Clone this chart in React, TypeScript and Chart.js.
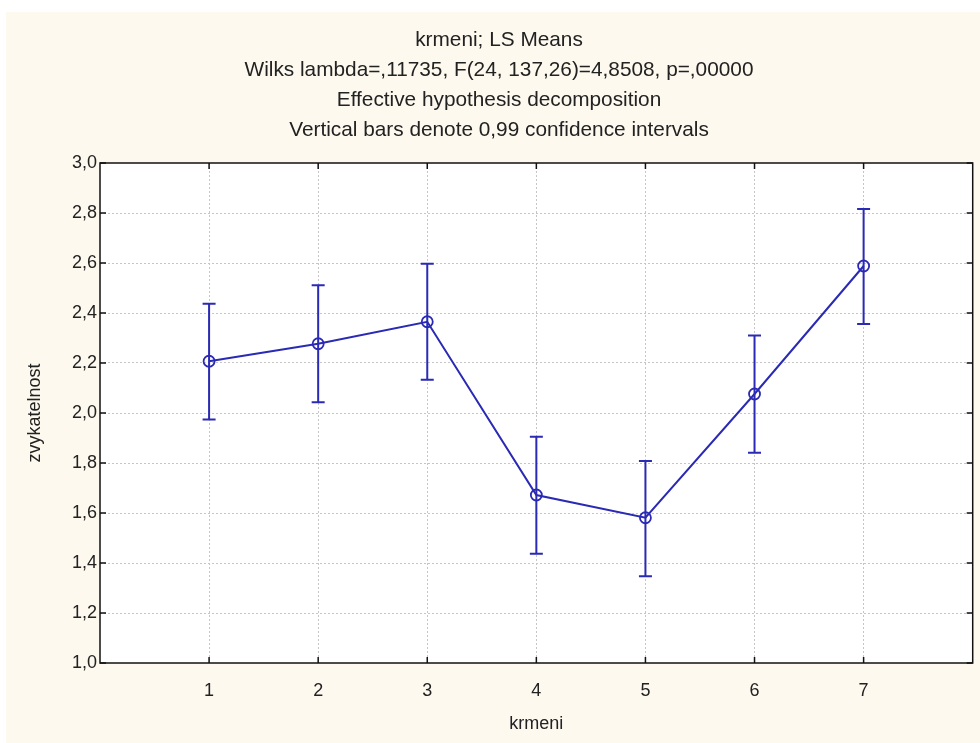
import React, { useEffect, useRef } from 'react';
import { Chart, registerables } from 'chart.js';

Chart.register(...registerables);

// ---- data ----
const categories = ['1', '2', '3', '4', '5', '6', '7'];
const means = [2.207, 2.277, 2.365, 1.672, 1.581, 2.076, 2.588];
const upper = [2.437, 2.511, 2.597, 1.905, 1.808, 2.31, 2.816];
const lower = [1.974, 2.043, 2.133, 1.437, 1.347, 1.841, 2.356];
const titleLines = [
  'krmeni; LS Means',
  'Wilks lambda=,11735, F(24, 137,26)=4,8508, p=,00000',
  'Effective hypothesis decomposition',
  'Vertical bars denote 0,99 confidence intervals',
];
const xTitle = 'krmeni';
const yTitle = 'zvykatelnost';

const BLUE = '#2a2ab4';
const FONT = "'Liberation Sans', Arial, sans-serif";

const framePlugin = {
  id: 'frame',
  beforeDraw(chart: any) {
    const { ctx, width, height, chartArea } = chart;
    ctx.save();
    ctx.fillStyle = '#ffffff';
    ctx.fillRect(0, 0, width, height);
    ctx.fillStyle = '#fdf9ef';
    ctx.fillRect(6, 12, width - 6, height - 12);
    ctx.fillStyle = '#ffffff';
    ctx.fillRect(chartArea.left, chartArea.top, chartArea.right - chartArea.left, chartArea.bottom - chartArea.top);
    ctx.restore();
  },
  afterDatasetsDraw(chart: any) {
    const { ctx } = chart;
    const xs = chart.scales.x;
    const ys = chart.scales.y;
    ctx.save();
    ctx.strokeStyle = BLUE;
    ctx.lineWidth = 2;
    for (let i = 0; i < means.length; i++) {
      const x = xs.getPixelForValue(i + 1);
      const yt = ys.getPixelForValue(upper[i]);
      const yb = ys.getPixelForValue(lower[i]);
      ctx.beginPath();
      ctx.moveTo(x, yt);
      ctx.lineTo(x, yb);
      ctx.moveTo(x - 6.5, yt);
      ctx.lineTo(x + 6.5, yt);
      ctx.moveTo(x - 6.5, yb);
      ctx.lineTo(x + 6.5, yb);
      ctx.stroke();
    }
    ctx.restore();
  },
  afterDraw(chart: any) {
    const { ctx, chartArea: a } = chart;
    const xs = chart.scales.x;
    const ys = chart.scales.y;
    ctx.save();
    ctx.strokeStyle = '#111';
    ctx.lineWidth = 1.5;
    ctx.strokeRect(a.left, a.top, a.right - a.left, a.bottom - a.top);
    ctx.beginPath();
    ys.ticks.forEach((t: any) => {
      const y = ys.getPixelForValue(t.value);
      ctx.moveTo(a.left, y);
      ctx.lineTo(a.left + 6, y);
      ctx.moveTo(a.right, y);
      ctx.lineTo(a.right - 6, y);
    });
    for (let i = 1; i <= categories.length; i++) {
      const x = xs.getPixelForValue(i);
      ctx.moveTo(x, a.top);
      ctx.lineTo(x, a.top + 6);
      ctx.moveTo(x, a.bottom);
      ctx.lineTo(x, a.bottom - 6);
    }
    ctx.stroke();
    ctx.restore();
  },
};

export default function App() {
  const ref = useRef<HTMLCanvasElement>(null);
  useEffect(() => {
    if (!ref.current) return;
    const chart = new Chart(ref.current, {
      type: 'line',
      data: {
        datasets: [
          {
            data: means.map((m, i) => ({ x: i + 1, y: m })),
            borderColor: BLUE,
            borderWidth: 2,
            pointRadius: 5.5,
            pointBorderWidth: 1.8,
            pointBackgroundColor: 'rgba(0,0,0,0)',
            pointBorderColor: BLUE,
            tension: 0,
          },
        ],
      },
      options: {
        animation: false,
        responsive: false,
        maintainAspectRatio: false,
        layout: { padding: { left: 24, right: 6, top: 0, bottom: 0 } },
        plugins: {
          legend: { display: false },
          tooltip: { enabled: false },
          title: {
            display: true,
            text: titleLines,
            color: '#222',
            font: { family: FONT, size: 20.8, weight: 'normal', lineHeight: '30px' as any },
            padding: { top: 25, bottom: 18 },
          },
        },
        scales: {
          x: {
            type: 'linear',
            min: 0,
            max: categories.length + 1,
            afterFit(scale: any) {
              scale.height = 80;
            },
            ticks: {
              stepSize: 1,
              padding: 0,
              color: '#222',
              font: { family: FONT, size: 18 },
              callback: (v: any) => {
                const n = Number(v);
                return n >= 1 && n <= categories.length ? categories[n - 1] : '';
              },
            },
            grid: {
              drawTicks: true,
              tickLength: 17,
              tickColor: 'rgba(0,0,0,0)',
              color: (c: any) =>
                c.tick && (c.tick.value === 0 || c.tick.value === categories.length + 1) ? 'rgba(0,0,0,0)' : '#c6c6c6',
              lineWidth: 1,
            },
            border: { display: false, dash: [2, 2] },
            title: {
              display: true,
              text: xTitle,
              color: '#222',
              font: { family: FONT, size: 18 },
              padding: { top: 0, bottom: 8 },
            },
          },
          y: {
            type: 'linear',
            min: 1,
            max: 3,
            afterFit(scale: any) {
              scale.width = 76;
            },
            ticks: {
              stepSize: 0.2,
              padding: 3,
              color: '#222',
              font: { family: FONT, size: 18 },
              callback: (v: any) => Number(v).toFixed(1).replace('.', ','),
            },
            grid: {
              drawTicks: false,
              color: (c: any) =>
                c.tick && (Math.abs(c.tick.value - 1) < 1e-6 || Math.abs(c.tick.value - 3) < 1e-6)
                  ? 'rgba(0,0,0,0)'
                  : '#c6c6c6',
              lineWidth: 1,
            },
            border: { display: false, dash: [2, 2] },
            title: {
              display: true,
              text: yTitle,
              color: '#222',
              font: { family: FONT, size: 18 },
              padding: { top: 0, bottom: 0 },
            },
          },
        },
      },
      plugins: [framePlugin],
    });
    return () => chart.destroy();
  }, []);
  return (
    <div style={{ position: 'fixed', left: 0, top: 0, width: 980, height: 743 }}>
      <canvas ref={ref} width={980} height={743} style={{ width: 980, height: 743 }} />
    </div>
  );
}
